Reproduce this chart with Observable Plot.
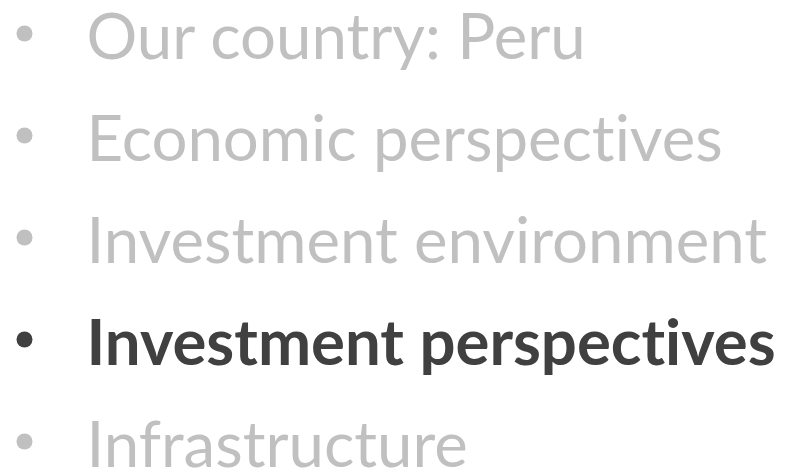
<!DOCTYPE html>
<html>
<head>
<meta charset="utf-8">
<script src="https://cdn.jsdelivr.net/npm/d3@7"></script>
<script src="https://cdn.jsdelivr.net/npm/@observablehq/plot@0.6"></script>
<style>
  html, body { margin: 0; padding: 0; background: #ffffff; }
  #chart svg { display: block; }
  #chart svg text { font-variant-ligatures: none; font-feature-settings: "liga" 0, "clig" 0; }
</style>
</head>
<body>
<div id="chart"></div>
<script>
const items = ["Our country: Peru", "Economic perspectives", "Investment environment", "Investment perspectives", "Infrastructure"];
const highlighted = [false, false, false, true, false];
const colors = {active: "#404040", inactive: "#c0c0c0"};

const rows = items.map((label, i) => ({label, active: highlighted[i]}));
const activeRows = rows.filter(d => d.active);
const inactiveRows = rows.filter(d => !d.active);

const textOpts = {
  y: "label",
  text: "label",
  frameAnchor: "left",
  textAnchor: "start",
  lineAnchor: "bottom",
  dx: 86,
  fontFamily: "Lato, 'Open Sans', sans-serif",
  fontSize: 63.5
};

const chart = Plot.plot({
  width: 788,
  height: 474,
  margin: 0,
  style: {background: "#ffffff"},
  x: {axis: null},
  y: {type: "point", domain: items, range: [56, 467], padding: 0, axis: null},
  marks: [
    Plot.dot(rows, {
      y: "label",
      frameAnchor: "left",
      dx: 24,
      dy: -25,
      r: 8,
      fill: d => d.active ? colors.active : colors.inactive,
      stroke: null
    }),
    Plot.text(inactiveRows, {...textOpts, fill: colors.inactive, fontWeight: "normal"}),
    Plot.text(activeRows, {...textOpts, fill: colors.active, fontWeight: "bold"})
  ]
});
document.getElementById("chart").append(chart);
</script>
</body>
</html>
